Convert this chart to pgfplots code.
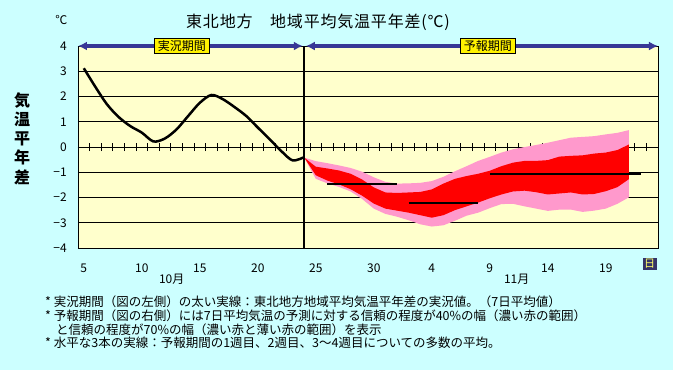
\documentclass[border=0pt]{standalone}
\usepackage{pgfplots}
\pgfplotsset{compat=1.18}
\usepackage{pgfplotstable}
\usetikzlibrary{arrows.meta}
\usepackage{fontspec}
\setmainfont{Noto Sans CJK JP}
\newfontfamily\titlefont[LetterSpace=5]{Noto Sans CJK JP}
\definecolor{bgc}{RGB}{204,255,255}
\definecolor{plotbg}{RGB}{255,255,204}
\definecolor{navyline}{RGB}{55,55,150}
\definecolor{pinkband}{RGB}{255,153,204}
\definecolor{redband}{RGB}{255,0,0}
\definecolor{daybox}{RGB}{51,51,102}
\definecolor{dayyel}{RGB}{255,255,102}

\pgfplotstableread{
idx val
0 3.12
1 2.38
2 1.69
3 1.19
4 0.83
5 0.57
6 0.22
7 0.34
8 0.70
9 1.23
10 1.75
11 2.06
12 1.89
13 1.58
14 1.23
15 0.77
16 0.32
17 -0.15
18 -0.53
19 -0.40
}\obs

% 70% band: upper edge forward, lower edge backward
\pgfplotstableread{
idx val
19 -0.42
20 -0.56
21 -0.64
22 -0.73
23 -0.83
24 -0.98
25 -1.20
26 -1.38
27 -1.45
28 -1.44
29 -1.42
30 -1.35
31 -1.18
32 -0.96
33 -0.76
34 -0.55
35 -0.39
36 -0.22
37 -0.09
38 0.00
39 0.08
40 0.17
41 0.27
42 0.37
43 0.40
44 0.43
45 0.50
46 0.56
47 0.67
47 -1.99
46 -2.25
45 -2.44
44 -2.52
43 -2.57
42 -2.48
41 -2.48
40 -2.53
39 -2.44
38 -2.35
37 -2.25
36 -2.26
35 -2.42
34 -2.60
33 -2.72
32 -2.92
31 -3.10
30 -3.15
29 -3.06
28 -2.90
27 -2.76
26 -2.65
25 -2.44
24 -2.06
23 -1.76
22 -1.58
21 -1.44
20 -1.26
19 -0.42
}\pinkband

% 40% band: upper edge forward, lower edge backward
\pgfplotstableread{
idx val
19 -0.42
20 -0.78
21 -0.85
22 -0.93
23 -1.06
24 -1.29
25 -1.60
26 -1.80
27 -1.82
28 -1.80
29 -1.78
30 -1.68
31 -1.45
32 -1.26
33 -1.15
34 -1.06
35 -0.94
36 -0.76
37 -0.62
38 -0.55
39 -0.55
40 -0.52
41 -0.38
42 -0.35
43 -0.33
44 -0.26
45 -0.22
46 -0.12
47 0.10
47 -1.27
46 -1.59
45 -1.75
44 -1.86
43 -1.88
42 -1.80
41 -1.84
40 -1.88
39 -1.79
38 -1.73
37 -1.76
36 -1.88
35 -2.03
34 -2.20
33 -2.35
32 -2.50
31 -2.70
30 -2.80
29 -2.70
28 -2.60
27 -2.52
26 -2.44
25 -2.24
24 -1.93
23 -1.67
22 -1.48
21 -1.33
20 -1.12
19 -0.42
}\redbandtab

\begin{document}
\begin{tikzpicture}
\fill[bgc] (0,0) rectangle (673pt,-370pt);
\fill[plotbg] (78pt,-46pt) rectangle (658pt,-248pt);

% tick marks on the zero line
\begin{axis}[
  at={(78pt,-248pt)}, anchor=south west,
  scale only axis, width=580pt, height=202pt,
  xmin=-0.5, xmax=49.5, ymin=-4, ymax=4,
  axis x line=middle, axis y line=none,
  axis line style={-, black, line width=0.8pt},
  xtick={0.5,1.5,...,48.5}, xticklabels={},
  ytick=\empty,
  tick align=center, major tick length=8pt,
  every tick/.style={black, line width=0.8pt},
]
\addplot[draw=none] coordinates {(0,0) (1,0)};
\end{axis}

\begin{axis}[
  at={(78pt,-248pt)}, anchor=south west,
  scale only axis, width=580pt, height=202pt,
  xmin=-0.5, xmax=49.5, ymin=-4, ymax=4,
  axis line style={black, line width=0.8pt},
  xtick={0,5,...,45}, xticklabels={5,10,15,20,25,30,4,9,14,19},
  ytick={-4,-3,...,4}, yticklabels={−4,−3,−2,−1,0,1,2,3,4},
  major tick length=0pt,
  ymajorgrids, grid style={black, line width=0.8pt},
  xticklabel style={anchor=base, yshift=-24pt, font=\fontsize{12}{14}\selectfont},
  yticklabel style={anchor=east, inner sep=0pt, xshift=-11pt, font=\fontsize{12}{14}\selectfont},
  clip=false,
]
\addplot[fill=pinkband, draw=none] table[x=idx,y=val]{\pinkband} -- cycle;
\addplot[fill=redband, draw=none] table[x=idx,y=val]{\redbandtab} -- cycle;

\addplot[black, line width=2pt] coordinates {(21,-1.45) (27,-1.45)};
\addplot[black, line width=2pt] coordinates {(28,-2.2) (34,-2.2)};
\addplot[black, line width=2pt] coordinates {(35,-1.05) (48,-1.05)};

\addplot[black, line width=2.5pt] coordinates {(19,-4) (19,4)};
\addplot[black, line width=2.5pt, smooth, tension=0.5] table[x=idx,y=val]{\obs};

\draw[navyline, line width=3.5pt, {Latex[length=9pt,width=9pt]}-{Latex[length=9pt,width=9pt]}]
  (axis cs:-0.5,4) -- (axis cs:18.88,4);
\draw[navyline, line width=3.5pt, {Latex[length=9pt,width=9pt]}-{Latex[length=9pt,width=9pt]}]
  (axis cs:19.14,4) -- (axis cs:49.5,4);
\node[fill=yellow, draw=black, line width=0.8pt, inner xsep=3.5pt, inner ysep=2pt,
  font=\fontsize{12}{14}\selectfont] at (axis cs:8.45,4) {実況期間};
\node[fill=yellow, draw=black, line width=0.8pt, inner xsep=3.5pt, inner ysep=2pt,
  font=\fontsize{12}{14}\selectfont] at (axis cs:34.83,4) {予報期間};
\end{axis}

% titles and labels
\node[font=\titlefont\fontsize{16}{18}\selectfont, anchor=base] at (318pt,-27pt) {東北地方　地域平均気温平年差(℃)};
\node[font=\fontsize{12}{14}\selectfont] at (61.5pt,-19.5pt) {℃};
\node[font=\fontsize{16}{19.3}\selectfont\bfseries, align=center] at (22pt,-138.5pt) {気\\温\\平\\年\\差};
\node[font=\fontsize{12}{14}\selectfont] at (171.7pt,-279pt) {10月};
\node[font=\fontsize{12}{14}\selectfont] at (516.7pt,-279pt) {11月};
\node[fill=daybox, text=dayyel, inner sep=1.5pt, font=\fontsize{11}{12}\selectfont] at (649.5pt,-264pt) {日};

\node[anchor=base west, inner sep=0pt, font=\fontsize{12.5}{14}\selectfont] at (45pt,-306pt)
  {* 実況期間（図の左側）の太い実線：東北地方地域平均気温平年差の実況値。（7日平均値）};
\node[anchor=base west, inner sep=0pt, font=\fontsize{12.5}{14}\selectfont] at (45pt,-320pt)
  {* 予報期間（図の右側）には7日平均気温の予測に対する信頼の程度が40\%の幅（濃い赤の範囲）};
\node[anchor=base west, inner sep=0pt, font=\fontsize{12.5}{14}\selectfont] at (56pt,-334pt)
  {と信頼の程度が70\%の幅（濃い赤と薄い赤の範囲）を表示};
\node[anchor=base west, inner sep=0pt, font=\fontsize{12.5}{14}\selectfont] at (45pt,-347pt)
  {* 水平な3本の実線：予報期間の1週目、2週目、3～4週目についての多数の平均。};
\end{tikzpicture}
\end{document}
